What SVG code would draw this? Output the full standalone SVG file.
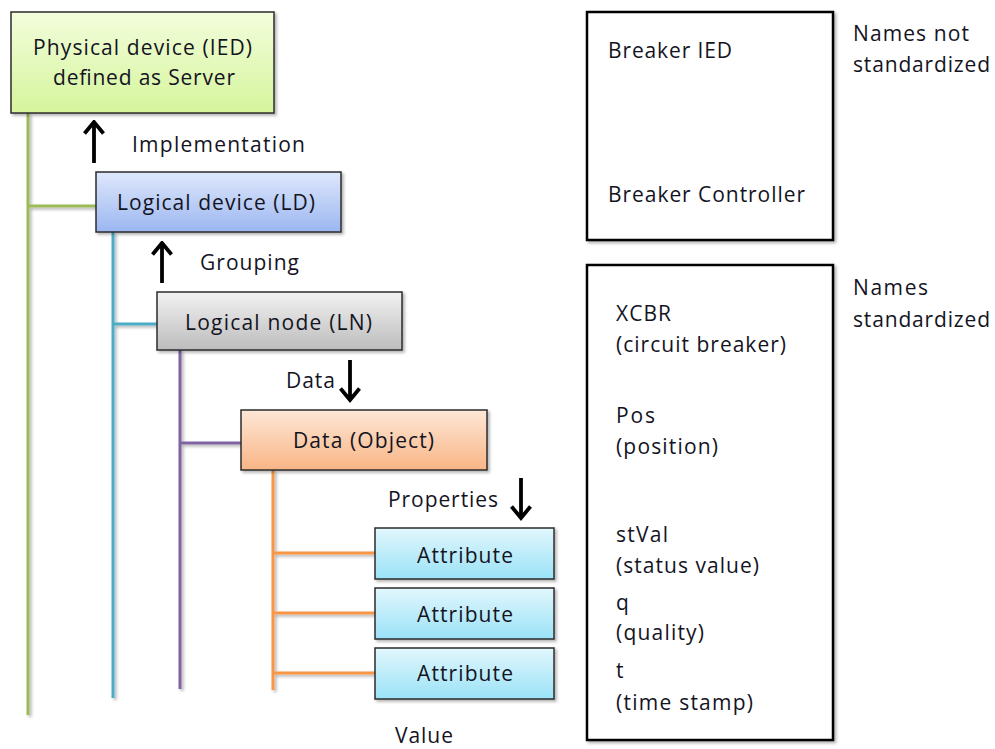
<svg xmlns="http://www.w3.org/2000/svg" width="995" height="749" viewBox="0 0 995 749">
<defs>
<linearGradient id="gGreen" x1="0" y1="0" x2="0" y2="1"><stop offset="0" stop-color="#f3fddc"/><stop offset="1" stop-color="#d5f59c"/></linearGradient>
<linearGradient id="gBlue" x1="0" y1="0" x2="0" y2="1"><stop offset="0" stop-color="#dfe8fc"/><stop offset="1" stop-color="#9bb6f0"/></linearGradient>
<linearGradient id="gGray" x1="0" y1="0" x2="0" y2="1"><stop offset="0" stop-color="#f2f2f2"/><stop offset="1" stop-color="#bcbcbc"/></linearGradient>
<linearGradient id="gOrange" x1="0" y1="0" x2="0" y2="1"><stop offset="0" stop-color="#fde7d6"/><stop offset="1" stop-color="#f9b585"/></linearGradient>
<linearGradient id="gCyan" x1="0" y1="0" x2="0" y2="1"><stop offset="0" stop-color="#e2f7fd"/><stop offset="1" stop-color="#9ae2f7"/></linearGradient>
<filter id="sh" x="-10%" y="-10%" width="130%" height="130%"><feDropShadow dx="2" dy="2" stdDeviation="1.5" flood-color="#000" flood-opacity="0.3"/></filter>
<marker id="ah" viewBox="0 0 16 22" refX="13.5" refY="11" markerWidth="16" markerHeight="22" markerUnits="userSpaceOnUse" orient="auto">
<path d="M2,1.5 L13.5,11 L2,20.5" fill="none" stroke="#000" stroke-width="3.8"/>
</marker>
</defs>
<style>
text{font-family:"Open Sans","Liberation Sans",sans-serif;font-size:21px;fill:#14141f}
.box{stroke:#2b2b2b;stroke-width:1.5;filter:url(#sh)}
.frame{fill:#fff;stroke:#000;stroke-width:2.5;filter:url(#sh)}
.ln{fill:none;stroke-width:3;filter:url(#sh)}
.arr{stroke:#000;stroke-width:3.8;fill:none}
</style>

<g id="connectors">
<path class="ln" stroke="#9bbb59" d="M28,113 V715 M28,206 H96"/>
<path class="ln" stroke="#4bacc6" d="M113,232 V698 M113,324 H157"/>
<path class="ln" stroke="#8064a2" d="M180,350 V689 M180,443 H241"/>
<path class="ln" stroke="#f79646" d="M273,470 V690 M273,553 H375 M273,613 H375 M273,673 H375"/>
<line class="arr" x1="94" y1="163" x2="94" y2="122" marker-end="url(#ah)"/>
<line class="arr" x1="162" y1="283" x2="162" y2="243" marker-end="url(#ah)"/>
<line class="arr" x1="350" y1="360" x2="350" y2="400" marker-end="url(#ah)"/>
<line class="arr" x1="521" y1="478" x2="521" y2="518" marker-end="url(#ah)"/>
</g>

<g id="physical">
<rect class="box" x="11" y="12" width="263" height="101" fill="url(#gGreen)"/>
<text x="33" y="55" textLength="219" lengthAdjust="spacing">Physical device (IED)</text>
<text x="53" y="85" textLength="182" lengthAdjust="spacing">defined as Server</text>
</g>
<g id="logical-device">
<rect class="box" x="96" y="172" width="245" height="60" fill="url(#gBlue)"/>
<text x="117" y="210" textLength="198" lengthAdjust="spacing">Logical device (LD)</text>
</g>
<g id="logical-node">
<rect class="box" x="157" y="292" width="245" height="58" fill="url(#gGray)"/>
<text x="185" y="330" textLength="187" lengthAdjust="spacing">Logical node (LN)</text>
</g>
<g id="data-object">
<rect class="box" x="241" y="410" width="246" height="60" fill="url(#gOrange)"/>
<text x="293" y="448" textLength="141" lengthAdjust="spacing">Data (Object)</text>
</g>
<g id="attribute-1">
<rect class="box" x="375" y="528" width="179" height="51" fill="url(#gCyan)"/>
<text x="417" y="563" textLength="96" lengthAdjust="spacing">Attribute</text>
</g>
<g id="attribute-2">
<rect class="box" x="375" y="588" width="179" height="51" fill="url(#gCyan)"/>
<text x="417" y="622" textLength="96" lengthAdjust="spacing">Attribute</text>
</g>
<g id="attribute-3">
<rect class="box" x="375" y="648" width="179" height="51" fill="url(#gCyan)"/>
<text x="417" y="681" textLength="96" lengthAdjust="spacing">Attribute</text>
</g>

<g id="labels">
<text x="132" y="152" textLength="173" lengthAdjust="spacing">Implementation</text>
<text x="200" y="270" textLength="99" lengthAdjust="spacing">Grouping</text>
<text x="286" y="388" textLength="49" lengthAdjust="spacing">Data</text>
<text x="388" y="507" textLength="110" lengthAdjust="spacing">Properties</text>
<text x="395" y="743" textLength="58" lengthAdjust="spacing">Value</text>
</g>

<g id="names-not-standardized">
<rect class="frame" x="587" y="12" width="246" height="228"/>
<text x="608" y="58" textLength="124" lengthAdjust="spacing">Breaker IED</text>
<text x="608" y="202" textLength="197" lengthAdjust="spacing">Breaker Controller</text>
<text x="853" y="41" textLength="116" lengthAdjust="spacing">Names not</text>
<text x="853" y="72" textLength="137" lengthAdjust="spacing">standardized</text>
</g>

<g id="names-standardized">
<rect class="frame" x="587" y="265" width="246" height="475"/>
<text x="853" y="295" textLength="75" lengthAdjust="spacing">Names</text>
<text x="853" y="327" textLength="137" lengthAdjust="spacing">standardized</text>
<text x="616" y="321" textLength="55" lengthAdjust="spacing">XCBR</text>
<text x="616" y="352" textLength="170" lengthAdjust="spacing">(circuit breaker)</text>
<text x="616" y="423" textLength="39" lengthAdjust="spacing">Pos</text>
<text x="616" y="454" textLength="102" lengthAdjust="spacing">(position)</text>
<text x="616" y="542" textLength="52" lengthAdjust="spacing">stVal</text>
<text x="616" y="573" textLength="143" lengthAdjust="spacing">(status value)</text>
<text x="616" y="610">q</text>
<text x="616" y="640" textLength="88" lengthAdjust="spacing">(quality)</text>
<text x="616" y="678">t</text>
<text x="616" y="710" textLength="137" lengthAdjust="spacing">(time stamp)</text>
</g>
</svg>
